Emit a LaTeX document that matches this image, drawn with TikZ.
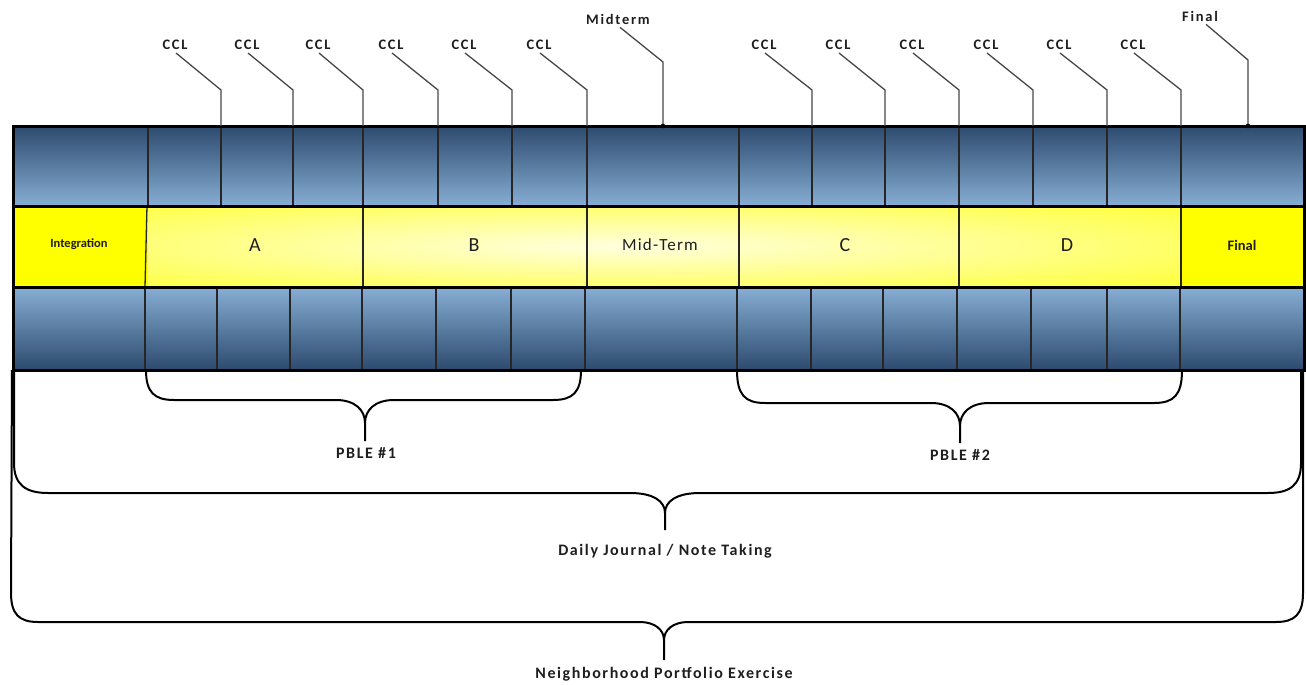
\documentclass[tikz,border=0pt]{standalone}
\usepackage{fontspec}
\setmainfont{Carlito}
\newfontfamily\spacedfont[LetterSpace=10]{Carlito}
\newfontfamily\midfont[LetterSpace=7]{Carlito}
\newfontfamily\widefont[LetterSpace=12]{Carlito}
\definecolor{bdark}{RGB}{44,74,110}
\definecolor{blight}{RGB}{136,174,212}
\definecolor{ylw}{RGB}{255,255,0}
\definecolor{ylight}{RGB}{255,255,222}
\definecolor{lbl}{RGB}{30,30,30}
\begin{document}
\begin{tikzpicture}[x=1pt,y=-1pt,
  frame/.style={line width=3pt,black},
  divider/.style={line width=1.3pt,black!85},
  callout/.style={line width=1.3pt,black!72,line join=round},
  bracepath/.style={line width=2pt,black,line join=round},
  toplab/.style={font=\widefont\bfseries\fontsize{14.5}{16}\selectfont,inner sep=0pt,text=lbl},
  botlab/.style={font=\spacedfont\bfseries\fontsize{16}{19}\selectfont,inner sep=0pt,text=lbl},
  bigcell/.style={font=\fontsize{20}{24}\selectfont,inner sep=0pt,text=lbl},
  smallcell/.style={font=\bfseries\fontsize{12.5}{15}\selectfont,inner sep=0pt,text=lbl}]
\useasboundingbox (0,0) rectangle (1306,685);

% bands
\shade[top color=bdark,bottom color=blight] (13,126) rectangle (1304,206);
\fill[ylw] (13,206) rectangle (1304,287);
\begin{scope}
  \clip (148,206) rectangle (1181,287);
  \shade[inner color=ylight,outer color=ylw] (620,246) ellipse [x radius=1040,y radius=80];
\end{scope}
\shade[top color=blight,bottom color=bdark] (13,287) rectangle (1304,370);

% dividers
\foreach \x in {148,221,293,363,438,512,587,739,812,885,959,1033,1107,1181}
  \draw[divider] (\x,126) -- (\x,206);
\draw[divider] (147,206) -- (145,287);
\foreach \x in {363,587,739,959,1181}
  \draw[divider] (\x,206) -- (\x,287);
\foreach \x in {145,217,290,362,436,511,585,737,811,883,957,1031,1107,1180}
  \draw[divider] (\x,287) -- (\x,370);

% frame
\draw[frame] (13,126) rectangle (1304,370);
\draw[frame] (13,206) -- (1304,206);
\draw[frame] (13,287) -- (1304,287);

% yellow band texts
\node[smallcell] (integ) at (79,244) {Integration};
\node[bigcell] (A) at (255,245) {A};
\node[bigcell] (B) at (474,245) {B};
\node[bigcell,font=\midfont\fontsize{17}{20}\selectfont] (mid) at (660,245) {Mid-Term};
\node[bigcell] (C) at (845,245) {C};
\node[bigcell] (D) at (1067,245) {D};
\node[smallcell,font=\bfseries\fontsize{14.5}{17}\selectfont] (fin) at (1242,245) {Final};

% CCL callouts
\foreach \lx/\ex [count=\i] in {175/221,247/293,318/363,391/438,464/512,539/587,
                                764/812,838/885,912/959,986/1033,1059/1107,1133/1181}{
  \node[toplab] (ccl\i) at (\lx,45) {CCL};
  \coordinate (bend\i) at (\ex,90);
  \coordinate (foot\i) at (\ex,126);
  \draw[callout] ([xshift=1pt,yshift=-3pt]ccl\i.south) -- (bend\i) -- (foot\i);
}

% Midterm and Final callouts
\node[toplab] (midlab) at (618,19) {Midterm};
\coordinate (midbend) at (663,62);
\coordinate (midfoot) at (663,126);
\draw[callout] ([xshift=2pt,yshift=-3pt]midlab.south) -- (midbend) -- (midfoot);
\fill (midfoot) circle (2.3);
\node[toplab] (finlab) at (1200,16) {Final};
\coordinate (finbend) at (1248,60);
\coordinate (finfoot) at (1248,126);
\draw[callout] ([xshift=6pt,yshift=-3pt]finlab.south) -- (finbend) -- (finfoot);
\fill (finfoot) circle (2.3);

% braces
\draw[bracepath] (146,370) .. controls (146,392) and (154,400) .. (174,400) -- (336,400)
  .. controls (355,400) and (365,410) .. (365,423) -- (365,441)
  (365,423) .. controls (365,410) and (375,400) .. (394,400) -- (553,400)
  .. controls (573,400) and (581,392) .. (581,370);
\node[botlab] (pble1) at (366,453) {PBLE \#1};

\draw[bracepath] (737,370) .. controls (737,395) and (745,403) .. (765,403) -- (931,403)
  .. controls (950,403) and (960,413) .. (960,426) -- (960,443)
  (960,426) .. controls (960,413) and (970,403) .. (989,403) -- (1154,403)
  .. controls (1174,403) and (1182,395) .. (1182,370);
\node[botlab] (pble2) at (960,455) {PBLE \#2};

\draw[bracepath] (14,370) -- (14,463) .. controls (14,485) and (26,493) .. (48,493) -- (630,493)
  .. controls (653,493) and (665,501) .. (665,513) -- (665,530)
  (665,513) .. controls (665,501) and (677,493) .. (700,493) -- (1268,493)
  .. controls (1290,493) and (1301,485) .. (1301,463) -- (1301,370);
\node[botlab] (daily) at (665,551) {Daily Journal / Note Taking};

\draw[bracepath] (12,370) -- (11,593) .. controls (11,614) and (19,622) .. (38,622) -- (640,622)
  .. controls (655,622) and (664,630) .. (664,640) -- (664,660)
  (664,640) .. controls (664,630) and (673,622) .. (688,622) -- (1276,622)
  .. controls (1295,622) and (1303,614) .. (1303,593) -- (1303,370);
\node[botlab] (neigh) at (664,674) {Neighborhood Portfolio Exercise};
\end{tikzpicture}
\end{document}
